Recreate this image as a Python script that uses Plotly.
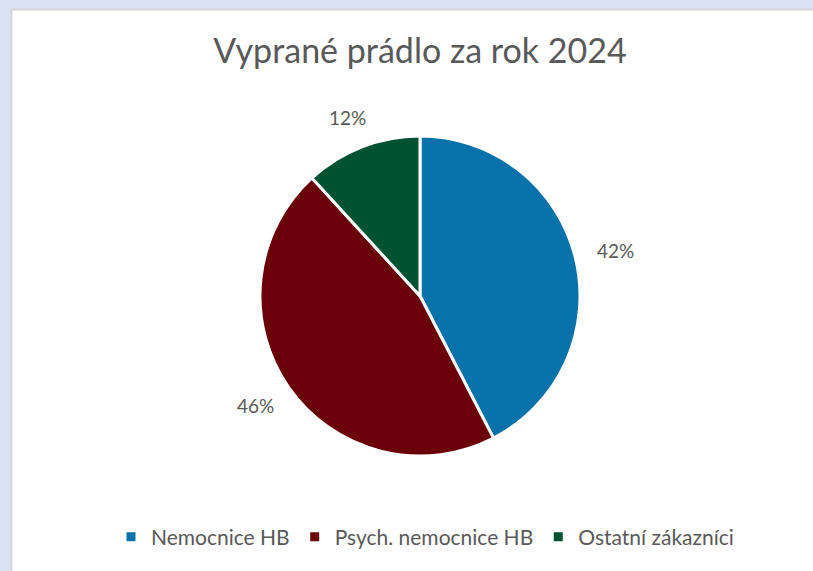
import math
import plotly.graph_objects as go

categories = ["Nemocnice HB", "Psych. nemocnice HB", "Ostatní zákazníci"]
values = [42.4, 45.8, 11.8]
colors = ["#0a72aa", "#6a0008", "#005231"]
title_text = "Vyprané prádlo za rok 2024"

W, H = 813, 571
cx, cy, r = 420, 296, 160
label_gap = 22
box_w, box_h = 38, 20

fig = go.Figure()
fig.add_trace(go.Pie(
    labels=categories,
    values=values,
    sort=False,
    direction="clockwise",
    rotation=0,
    marker=dict(colors=colors, line=dict(color="white", width=3)),
    textinfo="none",
    domain=dict(x=[(cx - r) / W, (cx + r) / W], y=[1 - (cy + r) / H, 1 - (cy - r) / H]),
    hoverinfo="label+percent",
))

# percentage labels placed outside each slice, at the slice mid-angle
total = sum(values)
annotations = []
cum = 0.0
for v in values:
    mid = (cum + v / 2) / total * 2 * math.pi
    cum += v
    s, c = math.sin(mid), math.cos(mid)
    px = cx + (r + label_gap) * s + box_w / 2 * s
    py = cy - (r + label_gap) * c - box_h / 2 * c
    annotations.append(dict(
        x=px / W, y=1 - py / H, xref="paper", yref="paper",
        text=f"{round(v / total * 100)}%", showarrow=False,
        xanchor="center", yanchor="middle",
        font=dict(size=19, color="#595959", family="Lato"),
    ))

fig.update_layout(
    width=W, height=H,
    margin=dict(l=0, r=0, t=0, b=0),
    paper_bgcolor="#dae3f3",
    plot_bgcolor="white",
    title=dict(text=title_text, x=420 / W, xanchor="center", y=1 - 51 / H, yanchor="middle",
               font=dict(size=34, color="#595959", family="Lato")),
    legend=dict(orientation="h", x=425 / W, xanchor="center", y=1 - 537 / H, yanchor="middle",
                font=dict(size=21, color="#595959", family="Lato"),
                itemwidth=30, traceorder="normal", bgcolor="rgba(0,0,0,0)"),
    annotations=annotations,
    shapes=[dict(type="rect", xref="paper", yref="paper",
                 x0=11.5 / W, x1=1.02, y0=-0.02, y1=1 - 9.5 / H,
                 fillcolor="white", line=dict(color="#d6d6d6", width=2), layer="below")],
)

fig.write_html("out.html", config={"displayModeBar": False},
               post_script="document.body.style.margin='0';document.body.style.background='#dae3f3';")
